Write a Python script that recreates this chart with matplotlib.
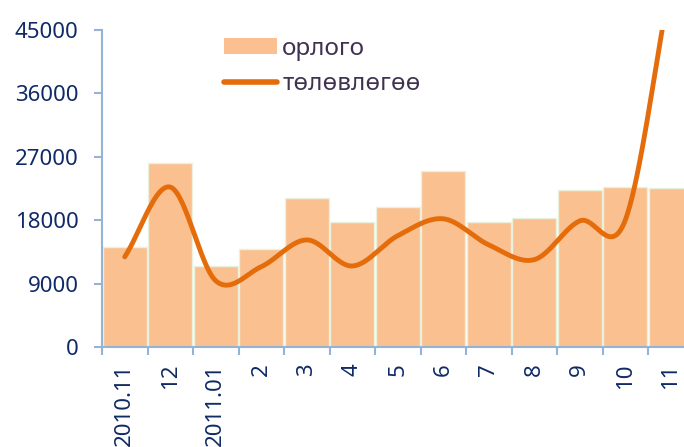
import numpy as np
import matplotlib
matplotlib.use("Agg")
import matplotlib.pyplot as plt
from matplotlib.patches import Patch
from matplotlib.lines import Line2D

categories = ["2010.11", "12", "2011.01", "2", "3", "4", "5", "6", "7", "8", "9", "10", "11"]
orlogo = [14200, 26100, 11500, 13900, 21150, 17750, 19900, 25000, 17750, 18300, 22300, 22700, 22600]
tolovlogoo = [12800, 22700, 9400, 11400, 15200, 11500, 15800, 18200, 14500, 12400, 17900, 18000, 52000]
yticks = [0, 9000, 18000, 27000, 36000, 45000]

def smooth(xs, ys, n=60):
    # Catmull-Rom style smoothing (like Excel's smoothed line)
    xs = np.asarray(xs, float); ys = np.asarray(ys, float)
    px = np.concatenate([[2*xs[0]-xs[1]], xs, [2*xs[-1]-xs[-2]]])
    py = np.concatenate([[2*ys[0]-ys[1]], ys, [2*ys[-1]-ys[-2]]])
    ox, oy = [], []
    t = np.linspace(0, 1, n)
    for i in range(1, len(px)-2):
        for arr, p in ((ox, px), (oy, py)):
            a0, a1, a2, a3 = p[i-1], p[i], p[i+1], p[i+2]
            c1 = a1 + (a2 - a0)/6
            c2 = a2 - (a3 - a1)/6
            arr.extend(((1-t)**3)*a1 + 3*((1-t)**2)*t*c1 + 3*(1-t)*t**2*c2 + t**3*a2)
    return np.array(ox), np.array(oy)

plt.rcParams['font.family'] = ['Noto Sans', 'DejaVu Sans']
fig = plt.figure(figsize=(6.84, 4.47), dpi=100)
ax = fig.add_axes([102/684, 100/447, 591.5/684, 317/447])

x = np.arange(len(categories))
bar_color = "#FAC090"
line_color = "#E46C0A"
axis_color = "#95B3D7"
tick_color = "#0F2A66"

ax.bar(x, orlogo, width=0.97, color=bar_color, edgecolor="#EAF1DD", linewidth=1.0, zorder=2)
sx_, sy_ = smooth(x, tolovlogoo)
ax.plot(sx_, sy_, color=line_color, linewidth=3.5, solid_capstyle="round", zorder=3, clip_on=True)

ax.set_xlim(-0.5, len(categories) - 0.5)
ax.set_ylim(0, 45000)
ax.set_yticks(yticks)
ax.set_yticklabels([str(v) for v in yticks])
ax.set_xticks(x)
ax.set_xticklabels(categories, rotation=90)
ax.set_xticks(np.arange(-0.5, len(categories), 1), minor=True)
ax.tick_params(axis="x", which="major", length=0, pad=12, labelsize=16, labelcolor=tick_color)
ax.tick_params(axis="x", which="minor", length=6, width=1.5, color=axis_color, direction="out")
ax.tick_params(axis="y", length=6, width=1.5, color=axis_color, direction="out", labelsize=16,
               labelcolor=tick_color, pad=11)
for s in ["top", "right"]:
    ax.spines[s].set_visible(False)
for s in ["left", "bottom"]:
    ax.spines[s].set_color(axis_color)
    ax.spines[s].set_linewidth(1.5)
ax.patch.set_alpha(0)

handles = [Patch(facecolor=bar_color, edgecolor="none"),
           Line2D([0], [0], color=line_color, linewidth=4, solid_capstyle="round")]
fig.legend(handles, ["орлого", "төлөвлөгөө"], loc="upper left",
           bbox_to_anchor=(219/684, 1 - 32/447), frameon=False, fontsize=17.5,
           handlelength=2.2, handleheight=0.62, handletextpad=0.2, labelspacing=0.45,
           labelcolor="#3F3151", borderaxespad=0, borderpad=0.2)

fig.savefig("out.png", dpi=100)
